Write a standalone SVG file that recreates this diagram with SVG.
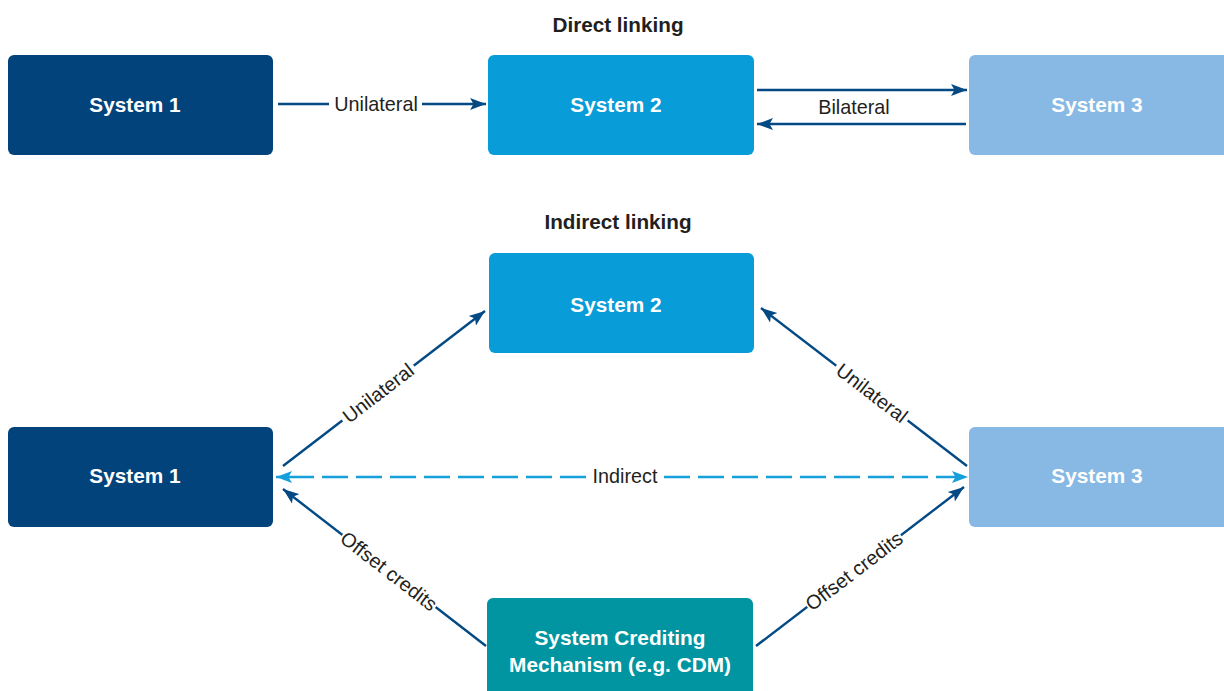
<svg xmlns="http://www.w3.org/2000/svg" width="1224" height="691" viewBox="0 0 1224 691">
  <style>
    .title { font-family: "Liberation Sans", Arial, sans-serif; font-weight: bold; font-size: 20.7px; fill: #231f20; text-anchor: middle; }
    .box-text { font-family: "Liberation Sans", Arial, sans-serif; font-weight: bold; font-size: 20.8px; fill: #ffffff; text-anchor: middle; dominant-baseline: central; }
    .label { font-family: "Liberation Sans", Arial, sans-serif; font-size: 19.8px; fill: #231f20; text-anchor: middle; dominant-baseline: central; }
    .link { stroke: #034a85; stroke-width: 2.4; fill: none; }
    .dashed { stroke: #15a0dc; stroke-width: 2.4; fill: none; stroke-dasharray: 26 8; }
    .s1 { fill: #03437b; }
    .s2 { fill: #089cd8; }
    .s3 { fill: #87b9e4; }
    .scm { fill: #0095a0; }
  </style>
  <defs>
    <marker id="arrow" markerUnits="userSpaceOnUse" markerWidth="17" markerHeight="13" refX="16" refY="6.5" orient="auto">
      <path d="M0,0.5 L16,6.5 L0,12.5 L3.5,6.5 Z" fill="#034a85"/>
    </marker>
    <marker id="arrow-light" markerUnits="userSpaceOnUse" markerWidth="17" markerHeight="13" refX="16" refY="6.5" orient="auto">
      <path d="M0,0.5 L16,6.5 L0,12.5 L3.5,6.5 Z" fill="#15a0dc"/>
    </marker>
  </defs>

  <rect width="1224" height="691" fill="#ffffff"/>

  <text class="title" x="618" y="32">Direct linking</text>
  <text class="title" x="618" y="229">Indirect linking</text>

  <!-- direct linking nodes -->
  <g id="direct-system-1">
    <rect class="s1" x="8" y="55" width="265" height="100" rx="6"/>
    <text class="box-text" x="135" y="104">System 1</text>
  </g>
  <g id="direct-system-2">
    <rect class="s2" x="488" y="55" width="266" height="100" rx="6"/>
    <text class="box-text" x="616" y="104">System 2</text>
  </g>
  <g id="direct-system-3">
    <rect class="s3" x="969" y="55" width="265" height="100" rx="6"/>
    <text class="box-text" x="1097" y="104">System 3</text>
  </g>

  <!-- indirect linking nodes -->
  <g id="indirect-system-2">
    <rect class="s2" x="489" y="253" width="265" height="100" rx="6"/>
    <text class="box-text" x="616" y="304">System 2</text>
  </g>
  <g id="indirect-system-1">
    <rect class="s1" x="8" y="427" width="265" height="100" rx="6"/>
    <text class="box-text" x="135" y="475">System 1</text>
  </g>
  <g id="indirect-system-3">
    <rect class="s3" x="969" y="427" width="265" height="100" rx="6"/>
    <text class="box-text" x="1097" y="475">System 3</text>
  </g>
  <g id="crediting-mechanism">
    <rect class="scm" x="487" y="598" width="266" height="110" rx="6"/>
    <text class="box-text" x="620" y="637">System Crediting</text>
    <text class="box-text" x="620" y="664">Mechanism (e.g. CDM)</text>
  </g>

  <g id="connectors">
    <!-- direct: unilateral -->
    <line class="link" x1="278" y1="104" x2="329" y2="104"/>
    <line class="link" x1="422" y1="104" x2="486" y2="104" marker-end="url(#arrow)"/>
    <text class="label" x="376" y="104">Unilateral</text>

    <!-- direct: bilateral -->
    <line class="link" x1="757" y1="90" x2="967" y2="90" marker-end="url(#arrow)"/>
    <line class="link" x1="966" y1="124" x2="757" y2="124" marker-end="url(#arrow)"/>
    <text class="label" x="854" y="107">Bilateral</text>

    <!-- indirect: System 1 to System 2 -->
    <line class="link" x1="283" y1="466" x2="485" y2="311" marker-end="url(#arrow)"/>
    <g transform="translate(378,393) rotate(-37.6)">
      <rect x="-45" y="-12" width="90" height="24" fill="#ffffff"/>
      <text class="label" x="0" y="0">Unilateral</text>
    </g>

    <!-- indirect: System 3 to System 2 -->
    <line class="link" x1="967" y1="466" x2="761" y2="308" marker-end="url(#arrow)"/>
    <g transform="translate(872,393) rotate(37.5)">
      <rect x="-45" y="-12" width="90" height="24" fill="#ffffff"/>
      <text class="label" x="0" y="0">Unilateral</text>
    </g>

    <!-- indirect: System 1 and System 3 -->
    <line class="dashed" x1="586" y1="477" x2="276" y2="477" marker-end="url(#arrow-light)"/>
    <line class="dashed" x1="664" y1="477" x2="968" y2="477" marker-end="url(#arrow-light)"/>
    <text class="label" x="625" y="476">Indirect</text>

    <!-- offset credits -->
    <line class="link" x1="486" y1="646" x2="283" y2="489" marker-end="url(#arrow)"/>
    <g transform="translate(389,571) rotate(37.7)">
      <rect x="-59" y="-12" width="118" height="24" fill="#ffffff"/>
      <text class="label" x="0" y="0">Offset credits</text>
    </g>
    <line class="link" x1="756" y1="646" x2="964" y2="487" marker-end="url(#arrow)"/>
    <g transform="translate(854,571) rotate(-37.4)">
      <rect x="-59" y="-12" width="118" height="24" fill="#ffffff"/>
      <text class="label" x="0" y="0">Offset credits</text>
    </g>
  </g>
</svg>
